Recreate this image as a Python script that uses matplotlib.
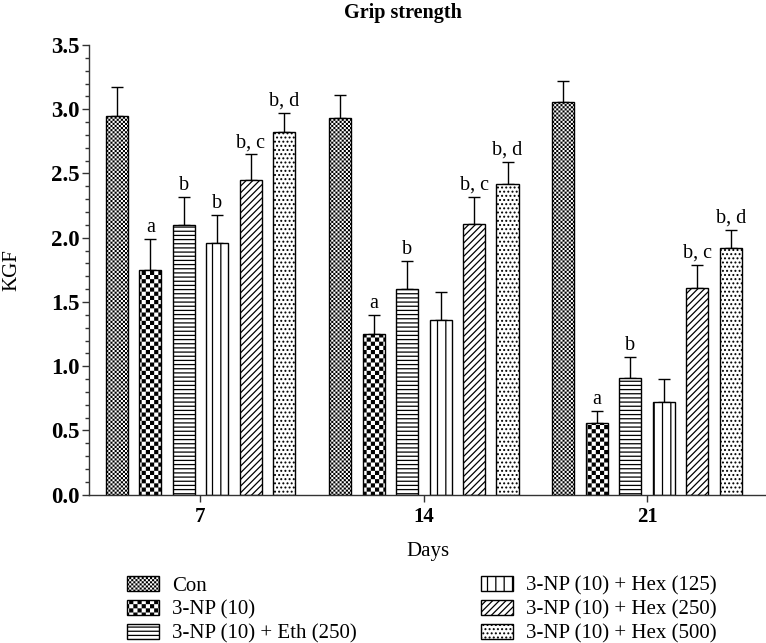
import numpy as np
import matplotlib
matplotlib.use('Agg')
import matplotlib.pyplot as plt
import matplotlib.hatch as mhatch
from matplotlib.path import Path

# data (mean and upper error, KGF)
days = ['7', '14', '21']
group_names = ['Con', '3-NP (10)', '3-NP (10) + Eth (250)',
               '3-NP (10) + Hex (125)', '3-NP (10) + Hex (250)', '3-NP (10) + Hex (500)']
con = [2.95, 2.93, 3.06]
np10 = [1.75, 1.25, 0.56]
eth250 = [2.10, 1.60, 0.91]
hex125 = [1.96, 1.36, 0.72]
hex250 = [2.45, 2.11, 1.61]
hex500 = [2.82, 2.42, 1.92]
con_err = [0.22, 0.18, 0.16]
np10_err = [0.24, 0.15, 0.09]
eth250_err = [0.22, 0.22, 0.16]
hex125_err = [0.22, 0.22, 0.18]
hex250_err = [0.20, 0.21, 0.18]
hex500_err = [0.15, 0.17, 0.14]
np10_sig = ['a', 'a', 'a']
eth250_sig = ['b', 'b', 'b']
hex125_sig = ['b', '', '']
hex250_sig = ['b, c', 'b, c', 'b, c']
hex500_sig = ['b, d', 'b, d', 'b, d']

means = [con, np10, eth250, hex125, hex250, hex500]
errs = [con_err, np10_err, eth250_err, hex125_err, hex250_err, hex500_err]
sigs = [None, np10_sig, eth250_sig, hex125_sig, hex250_sig, hex500_sig]

HATCH_LW = 0.9


# checkerboard hatch, takes the place of the '*' star hatch
class Checker(mhatch.HatchPatternBase):
    def __init__(self, hatch, density):
        self.n = hatch.count('*') * density
        self.num_vertices = (self.n * self.n // 2) * 5

    def set_vertices_and_codes(self, vertices, codes):
        s = 1.0 / self.n
        d = HATCH_LW / 144.0
        k = 0
        for i in range(self.n):
            for j in range(self.n):
                if (i + j) % 2:
                    continue
                x0, x1 = i * s + d, (i + 1) * s - d
                y0, y1 = j * s + d, (j + 1) * s - d
                vertices[k:k + 5] = [[x0, y0], [x1, y0], [x1, y1], [x0, y1], [x0, y0]]
                codes[k:k + 5] = [Path.MOVETO, Path.LINETO, Path.LINETO,
                                  Path.LINETO, Path.CLOSEPOLY]
                k += 5


mhatch._hatch_types = [Checker if t is mhatch.Stars else t for t in mhatch._hatch_types]

plt.rcParams['font.family'] = ['Liberation Serif', 'DejaVu Serif']
plt.rcParams['hatch.linewidth'] = HATCH_LW
plt.rcParams['hatch.color'] = 'black'

hatches = ['********', '****', '----', '||', '/////', '....']

fig = plt.figure(figsize=(7.66, 6.43), dpi=100)
ax = fig.add_axes([89 / 766, 1 - 494.7 / 643, 677 / 766, 449.7 / 643])

group_gap = 6.67
centers = np.arange(len(days)) * group_gap
offsets = np.arange(6) - 2.5
width = 0.66

handles = []
for k in range(6):
    x = centers + offsets[k]
    bars = ax.bar(x, means[k], width, color='white', edgecolor='black',
                  linewidth=1.0, hatch=hatches[k], label=group_names[k], zorder=2)
    handles.append(bars)
    ax.errorbar(x, means[k], yerr=[np.zeros(3), errs[k]], fmt='none',
                ecolor='black', elinewidth=1.0, capsize=4, capthick=1.0, zorder=1)
    if sigs[k] is not None:
        for xi, m, e, s in zip(x, means[k], errs[k], sigs[k]):
            if s:
                ax.annotate(s, (xi, m + e), xytext=(0, 1.5), textcoords='offset points',
                            ha='center', va='bottom', fontsize=14.5)

ax.set_xlim(-3.33, centers[-1] + 3.55)
ax.set_ylim(0, 3.5)
ax.set_xticks(centers)
ax.set_xticklabels(days, fontsize=15, fontweight='bold')
ax.set_yticks(np.arange(0, 3.51, 0.5))
ax.set_yticklabels([f'{v:.1f}' for v in np.arange(0, 3.51, 0.5)], fontsize=16.5, fontweight='bold')
ax.set_yticks(np.arange(0, 3.51, 0.1), minor=True)
ax.tick_params(axis='both', which='major', length=5, width=1.0, color='#333333')
ax.tick_params(axis='y', which='minor', length=3, width=1.0, color='#333333')
ax.tick_params(axis='y', which='major', pad=2)
for side in ['top', 'right']:
    ax.spines[side].set_visible(False)
for side in ['left', 'bottom']:
    ax.spines[side].set_linewidth(1.0)
    ax.spines[side].set_color('#333333')

ax.set_xlabel('Days', fontsize=15, labelpad=11)
ax.set_ylabel('KGF', fontsize=15)
ax.yaxis.set_label_coords(-0.1, 0.5)
fig.text(0.526, 0.995, 'Grip strength', ha='center', va='top', fontsize=14.5, fontweight='bold')

leg_kw = dict(frameon=False, fontsize=15, handlelength=1.55, handleheight=0.7,
              handletextpad=0.6, labelspacing=0.22, borderaxespad=0, borderpad=0)
fig.legend(handles[:3], group_names[:3], loc='upper left',
           bbox_to_anchor=(127 / 766, 1 - 576 / 643), **leg_kw)
fig.legend(handles[3:], group_names[3:], loc='upper left',
           bbox_to_anchor=(481 / 766, 1 - 576 / 643), **leg_kw)

fig.savefig('out.png', dpi=100, facecolor='white')
